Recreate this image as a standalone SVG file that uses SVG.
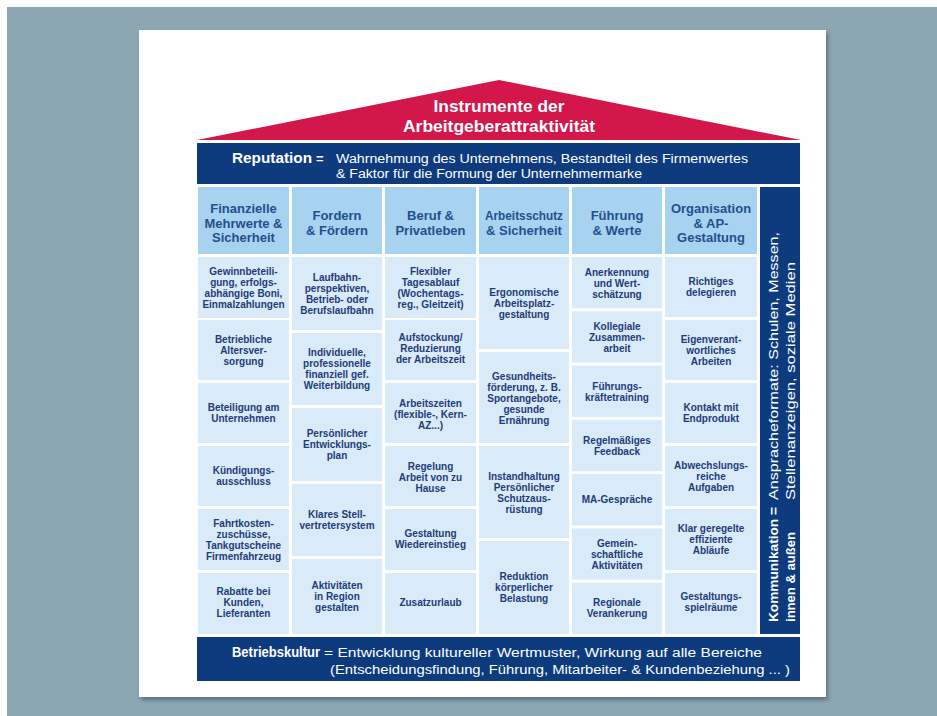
<svg xmlns="http://www.w3.org/2000/svg" width="937" height="716" viewBox="0 0 937 716">
<defs>
<filter id="sh" x="-5%" y="-5%" width="110%" height="110%">
<feDropShadow dx="2" dy="3" stdDeviation="2" flood-color="#3a4f58" flood-opacity="0.6"/>
</filter>
<style>
.bg{fill:#8CA7B1}
.page{fill:#ffffff}
.roof{fill:#D3174A}
.band{fill:#0D3B7E}
.hd{fill:#A7D2F0}
.cl{fill:#D9EBF8}
.t{font-family:"Liberation Sans Narrow","Liberation Sans",Arial,sans-serif;font-weight:bold;font-size:10px;fill:#1E3C7A;text-anchor:middle}
.h{font-family:"Liberation Sans Narrow","Liberation Sans",Arial,sans-serif;font-weight:bold;font-size:13px;fill:#22508F;text-anchor:middle}
.w{font-family:"Liberation Sans Narrow","Liberation Sans",Arial,sans-serif;fill:#ffffff}
</style>
</defs>
<rect x="0" y="0" width="937" height="716" fill="#ffffff"/>
<rect class="bg" x="7" y="7" width="930" height="709"/>
<rect class="page" x="139" y="30" width="687" height="667" filter="url(#sh)"/>

<g id="roof">
<polygon class="roof" points="197,140 499,80 801,140"/>
<text class="w" x="499" y="112" font-size="17" font-weight="bold" text-anchor="middle" textLength="131" lengthAdjust="spacingAndGlyphs">Instrumente der</text>
<text class="w" x="499" y="132" font-size="17" font-weight="bold" text-anchor="middle" textLength="192" lengthAdjust="spacingAndGlyphs">Arbeitgeberattraktivität</text>
</g>

<g id="reputation">
<rect class="band" x="197" y="143" width="603" height="41"/>
<text class="w" x="232" y="163" font-size="14" font-weight="bold" textLength="80" lengthAdjust="spacingAndGlyphs">Reputation</text>
<text class="w" x="316" y="163" font-size="13" font-weight="bold">=</text>
<text class="w" x="336" y="163" font-size="12.5" textLength="412" lengthAdjust="spacingAndGlyphs">Wahrnehmung des Unternehmens, Bestandteil des Firmenwertes</text>
<text class="w" x="336" y="178" font-size="12.5" textLength="306" lengthAdjust="spacingAndGlyphs">&amp; Faktor für die Formung der Unternehmermarke</text>
</g>

<g id="col1">
<rect class="hd" x="198" y="187" width="91" height="67"/>
<text class="h"><tspan x="243.5" y="213">Finanzielle</tspan><tspan x="243.5" y="227.5">Mehrwerte &amp;</tspan><tspan x="243.5" y="242">Sicherheit</tspan></text>
<rect class="cl" x="198" y="257" width="91" height="61"/>
<text class="t"><tspan x="243.5" y="274.5">Gewinnbeteili-</tspan><tspan x="243.5" dy="11">gung, erfolgs-</tspan><tspan x="243.5" dy="11">abhängige Boni,</tspan><tspan x="243.5" dy="11">Einmalzahlungen</tspan></text>
<rect class="cl" x="198" y="320" width="91" height="60"/>
<text class="t"><tspan x="243.5" y="342.5">Betriebliche</tspan><tspan x="243.5" dy="11">Altersver-</tspan><tspan x="243.5" dy="11">sorgung</tspan></text>
<rect class="cl" x="198" y="383" width="91" height="60"/>
<text class="t"><tspan x="243.5" y="411">Beteiligung am</tspan><tspan x="243.5" dy="11">Unternehmen</tspan></text>
<rect class="cl" x="198" y="446" width="91" height="60"/>
<text class="t"><tspan x="243.5" y="474">Kündigungs-</tspan><tspan x="243.5" dy="11">ausschluss</tspan></text>
<rect class="cl" x="198" y="509" width="91" height="61"/>
<text class="t"><tspan x="243.5" y="526.5">Fahrtkosten-</tspan><tspan x="243.5" dy="11">zuschüsse,</tspan><tspan x="243.5" dy="11">Tankgutscheine</tspan><tspan x="243.5" dy="11">Firmenfahrzeug</tspan></text>
<rect class="cl" x="198" y="573" width="91" height="61"/>
<text class="t"><tspan x="243.5" y="595">Rabatte bei</tspan><tspan x="243.5" dy="11">Kunden,</tspan><tspan x="243.5" dy="11">Lieferanten</tspan></text>
</g>

<g id="col2">
<rect class="hd" x="292" y="187" width="90" height="67"/>
<text class="h"><tspan x="337" y="220">Fordern</tspan><tspan x="337" y="234.5">&amp; Fördern</tspan></text>
<rect class="cl" x="292" y="257" width="90" height="73"/>
<text class="t"><tspan x="337" y="280.5">Laufbahn-</tspan><tspan x="337" dy="11">perspektiven,</tspan><tspan x="337" dy="11">Betrieb- oder</tspan><tspan x="337" dy="11">Berufslaufbahn</tspan></text>
<rect class="cl" x="292" y="333" width="90" height="72"/>
<text class="t"><tspan x="337" y="356">Individuelle,</tspan><tspan x="337" dy="11">professionelle</tspan><tspan x="337" dy="11">finanziell gef.</tspan><tspan x="337" dy="11">Weiterbildung</tspan></text>
<rect class="cl" x="292" y="408" width="90" height="73"/>
<text class="t"><tspan x="337" y="437">Persönlicher</tspan><tspan x="337" dy="11">Entwicklungs-</tspan><tspan x="337" dy="11">plan</tspan></text>
<rect class="cl" x="292" y="484" width="90" height="72"/>
<text class="t"><tspan x="337" y="518">Klares Stell-</tspan><tspan x="337" dy="11">vertretersystem</tspan></text>
<rect class="cl" x="292" y="559" width="90" height="75"/>
<text class="t"><tspan x="337" y="589">Aktivitäten</tspan><tspan x="337" dy="11">in Region</tspan><tspan x="337" dy="11">gestalten</tspan></text>
</g>

<g id="col3">
<rect class="hd" x="385" y="187" width="91" height="67"/>
<text class="h"><tspan x="430.5" y="220">Beruf &amp;</tspan><tspan x="430.5" y="234.5">Privatleben</tspan></text>
<rect class="cl" x="385" y="257" width="91" height="61"/>
<text class="t"><tspan x="430.5" y="274.5">Flexibler</tspan><tspan x="430.5" dy="11">Tagesablauf</tspan><tspan x="430.5" dy="11">(Wochentags-</tspan><tspan x="430.5" dy="11">reg., Gleitzeit)</tspan></text>
<rect class="cl" x="385" y="320" width="91" height="60"/>
<text class="t"><tspan x="430.5" y="341">Aufstockung/</tspan><tspan x="430.5" dy="11">Reduzierung</tspan><tspan x="430.5" dy="11">der Arbeitszeit</tspan></text>
<rect class="cl" x="385" y="383" width="91" height="60"/>
<text class="t"><tspan x="430.5" y="406.5">Arbeitszeiten</tspan><tspan x="430.5" dy="11">(flexible-, Kern-</tspan><tspan x="430.5" dy="11">AZ...)</tspan></text>
<rect class="cl" x="385" y="446" width="91" height="60"/>
<text class="t"><tspan x="430.5" y="469.5">Regelung</tspan><tspan x="430.5" dy="11">Arbeit von zu</tspan><tspan x="430.5" dy="11">Hause</tspan></text>
<rect class="cl" x="385" y="509" width="91" height="61"/>
<text class="t"><tspan x="430.5" y="537">Gestaltung</tspan><tspan x="430.5" dy="11">Wiedereinstieg</tspan></text>
<rect class="cl" x="385" y="573" width="91" height="61"/>
<text class="t"><tspan x="430.5" y="605.5">Zusatzurlaub</tspan></text>
</g>

<g id="col4">
<rect class="hd" x="479" y="187" width="90" height="67"/>
<text class="h"><tspan x="524" y="220" textLength="78" lengthAdjust="spacingAndGlyphs">Arbeitsschutz</tspan><tspan x="524" y="234.5">&amp; Sicherheit</tspan></text>
<rect class="cl" x="479" y="257" width="90" height="92"/>
<text class="t"><tspan x="524" y="295.5">Ergonomische</tspan><tspan x="524" dy="11">Arbeitsplatz-</tspan><tspan x="524" dy="11">gestaltung</tspan></text>
<rect class="cl" x="479" y="352" width="90" height="91"/>
<text class="t"><tspan x="524" y="379.5">Gesundheits-</tspan><tspan x="524" dy="11">förderung, z. B.</tspan><tspan x="524" dy="11">Sportangebote,</tspan><tspan x="524" dy="11">gesunde</tspan><tspan x="524" dy="11">Ernährung</tspan></text>
<rect class="cl" x="479" y="446" width="90" height="92"/>
<text class="t"><tspan x="524" y="479.5">Instandhaltung</tspan><tspan x="524" dy="11">Persönlicher</tspan><tspan x="524" dy="11">Schutzaus-</tspan><tspan x="524" dy="11">rüstung</tspan></text>
<rect class="cl" x="479" y="541" width="90" height="93"/>
<text class="t"><tspan x="524" y="579.5">Reduktion</tspan><tspan x="524" dy="11">körperlicher</tspan><tspan x="524" dy="11">Belastung</tspan></text>
</g>

<g id="col5">
<rect class="hd" x="572" y="187" width="90" height="67"/>
<text class="h"><tspan x="617" y="220">Führung</tspan><tspan x="617" y="234.5">&amp; Werte</tspan></text>
<rect class="cl" x="572" y="257" width="90" height="51.3"/>
<text class="t"><tspan x="617" y="275.5">Anerkennung</tspan><tspan x="617" dy="11">und Wert-</tspan><tspan x="617" dy="11">schätzung</tspan></text>
<rect class="cl" x="572" y="311.3" width="90" height="51.3"/>
<text class="t"><tspan x="617" y="329.5">Kollegiale</tspan><tspan x="617" dy="11">Zusammen-</tspan><tspan x="617" dy="11">arbeit</tspan></text>
<rect class="cl" x="572" y="365.6" width="90" height="51.3"/>
<text class="t"><tspan x="617" y="389.5">Führungs-</tspan><tspan x="617" dy="11">kräftetraining</tspan></text>
<rect class="cl" x="572" y="419.9" width="90" height="51.3"/>
<text class="t"><tspan x="617" y="443.5">Regelmäßiges</tspan><tspan x="617" dy="11">Feedback</tspan></text>
<rect class="cl" x="572" y="474.1" width="90" height="51.3"/>
<text class="t"><tspan x="617" y="503">MA-Gespräche</tspan></text>
<rect class="cl" x="572" y="528.4" width="90" height="51.3"/>
<text class="t"><tspan x="617" y="546.5">Gemein-</tspan><tspan x="617" dy="11">schaftliche</tspan><tspan x="617" dy="11">Aktivitäten</tspan></text>
<rect class="cl" x="572" y="582.7" width="90" height="51.3"/>
<text class="t"><tspan x="617" y="606">Regionale</tspan><tspan x="617" dy="11">Verankerung</tspan></text>
</g>

<g id="col6">
<rect class="hd" x="665" y="187" width="92" height="67"/>
<text class="h"><tspan x="711" y="213">Organisation</tspan><tspan x="711" y="227.5">&amp; AP-</tspan><tspan x="711" y="242">Gestaltung</tspan></text>
<rect class="cl" x="665" y="257" width="92" height="60"/>
<text class="t"><tspan x="711" y="285">Richtiges</tspan><tspan x="711" dy="11">delegieren</tspan></text>
<rect class="cl" x="665" y="320" width="92" height="60"/>
<text class="t"><tspan x="711" y="342.5">Eigenverant-</tspan><tspan x="711" dy="11">wortliches</tspan><tspan x="711" dy="11">Arbeiten</tspan></text>
<rect class="cl" x="665" y="383" width="92" height="60"/>
<text class="t"><tspan x="711" y="411">Kontakt mit</tspan><tspan x="711" dy="11">Endprodukt</tspan></text>
<rect class="cl" x="665" y="446" width="92" height="60"/>
<text class="t"><tspan x="711" y="469">Abwechslungs-</tspan><tspan x="711" dy="11">reiche</tspan><tspan x="711" dy="11">Aufgaben</tspan></text>
<rect class="cl" x="665" y="509" width="92" height="61"/>
<text class="t"><tspan x="711" y="531.5">Klar geregelte</tspan><tspan x="711" dy="11">effiziente</tspan><tspan x="711" dy="11">Abläufe</tspan></text>
<rect class="cl" x="665" y="573" width="92" height="61"/>
<text class="t"><tspan x="711" y="600">Gestaltungs-</tspan><tspan x="711" dy="11">spielräume</tspan></text>
</g>

<g id="kommunikation">
<rect class="band" x="760" y="187" width="40" height="447"/>
<g transform="translate(778,622) rotate(-90)">
<text class="w" x="0" y="0" font-size="13" font-weight="bold" textLength="115" lengthAdjust="spacingAndGlyphs">Kommunikation =</text>
<text class="w" x="122" y="0" font-size="12.5" textLength="268" lengthAdjust="spacingAndGlyphs">Anspracheformate: Schulen, Messen,</text>
</g>
<g transform="translate(795,622) rotate(-90)">
<text class="w" x="0" y="0" font-size="13" font-weight="bold" textLength="90" lengthAdjust="spacingAndGlyphs">innen &amp; außen</text>
<text class="w" x="122" y="0" font-size="12.5" textLength="238" lengthAdjust="spacingAndGlyphs">Stellenanzeigen, soziale Medien</text>
</g>
</g>

<g id="betriebskultur">
<rect class="band" x="197" y="637" width="603" height="44"/>
<text class="w" x="232" y="657" font-size="14" font-weight="bold" textLength="88" lengthAdjust="spacingAndGlyphs">Betriebskultur</text>
<text class="w" x="324" y="657" font-size="12.5" textLength="438" lengthAdjust="spacingAndGlyphs">= Entwicklung kultureller Wertmuster, Wirkung auf alle Bereiche</text>
<text class="w" x="330" y="674" font-size="12.5" textLength="460" lengthAdjust="spacingAndGlyphs">(Entscheidungsfindung, Führung, Mitarbeiter- &amp; Kundenbeziehung ... )</text>
</g>
</svg>
